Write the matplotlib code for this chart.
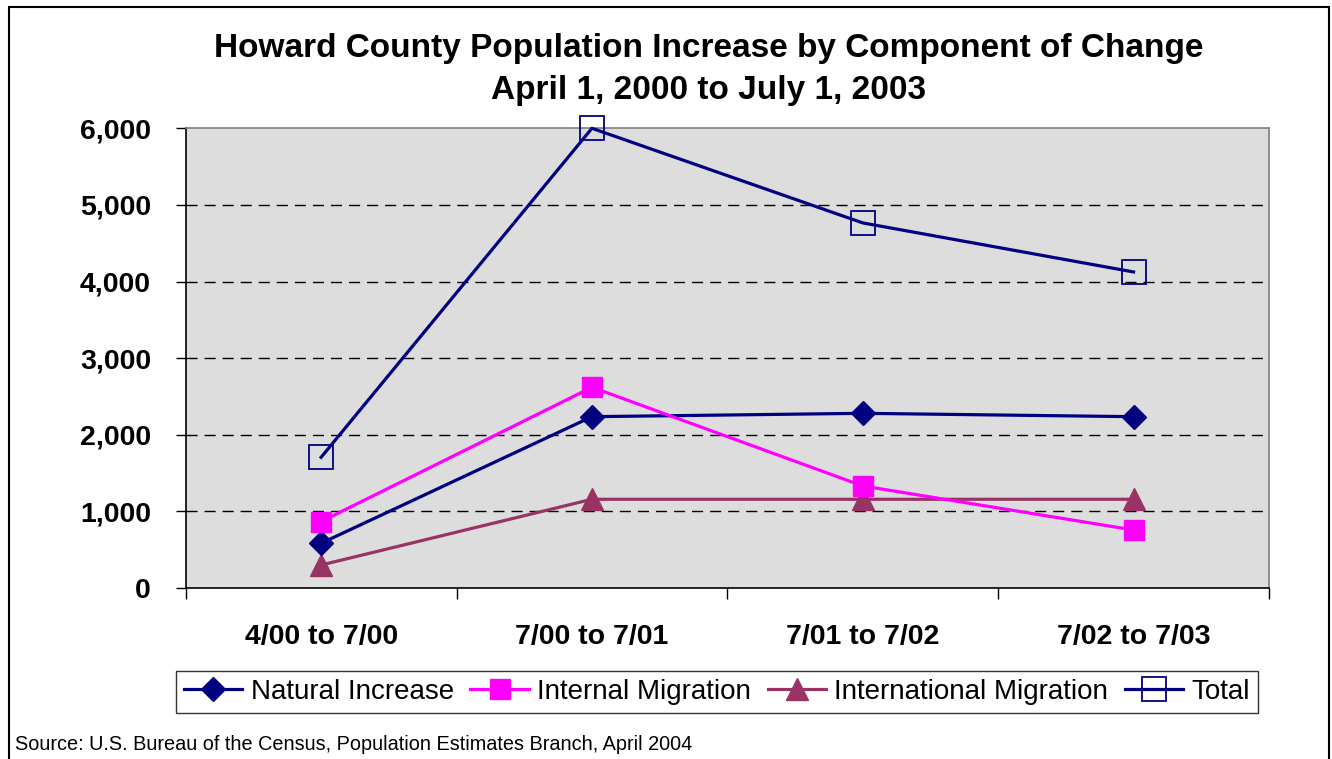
import matplotlib
matplotlib.use("Agg")
import matplotlib.pyplot as plt
from matplotlib.patches import Rectangle
from matplotlib.ticker import FuncFormatter, FixedLocator

plt.rcParams['font.family'] = ['Liberation Sans', 'DejaVu Sans']

categories = ["4/00 to 7/00", "7/00 to 7/01", "7/01 to 7/02", "7/02 to 7/03"]
natural_increase = [584, 2236, 2280, 2236]
internal_migration = [866, 2620, 1332, 757]
international_migration = [300, 1158, 1158, 1158]
total = [1706, 6000, 4765, 4125]

fig = plt.figure(figsize=(13.32, 7.59), dpi=100)
ax = fig.add_axes([185.7/1332, 1-588/759, (1269-185.7)/1332, (588-128.3)/759])
ax.set_facecolor('#DDDDDD')

x = list(range(len(categories)))
ax.plot(x, natural_increase, color='#000080', lw=2.3, marker='D', ms=12,
        mfc='#000080', mec='#000080', label='Natural Increase', zorder=4, clip_on=False)
ax.plot(x, internal_migration, color='#FF00FF', lw=2.3, marker='s', ms=15,
        mfc='#FF00FF', mec='#FF00FF', label='Internal Migration', zorder=4, clip_on=False)
ax.plot(x, international_migration, color='#993366', lw=2.3, marker='^', ms=16,
        mfc='#993366', mec='#993366', label='International Migration', zorder=3, clip_on=False)
ax.plot(x, total, color='#000080', lw=2.3, marker='s', ms=17,
        mfc='none', mec='#000080', mew=1.3, label='Total', zorder=5, clip_on=False)

ax.set_xlim(-0.5, 3.5)
ax.set_ylim(0, 6000)
ax.set_yticks(range(0, 6001, 1000))
ax.yaxis.set_major_formatter(FuncFormatter(lambda v, p: f"{int(v):,}"))
ax.xaxis.set_major_locator(FixedLocator([-0.5, 0.5, 1.5, 2.5, 3.5]))
ax.xaxis.set_minor_locator(FixedLocator(x))
ax.set_xticklabels([], minor=False)
ax.set_xticklabels(categories, minor=True)
ax.tick_params(axis='x', which='major', direction='out', length=8, width=1, color='black')
ax.tick_params(axis='x', which='minor', length=0, pad=26, labelsize=20.5)
ax.tick_params(axis='y', direction='out', length=7, width=1, pad=18, labelsize=20.5)
for lab in ax.get_xticklabels(minor=True) + ax.get_yticklabels():
    lab.set_fontweight('bold')

for v in range(1000, 6000, 1000):
    ax.axhline(v, color='black', lw=1, ls=(0, (8, 5)), zorder=1)

ax.spines['left'].set_color('black')
ax.spines['bottom'].set_color('black')
ax.spines['top'].set_color('#808080')
ax.spines['right'].set_color('#808080')
for s in ax.spines.values():
    s.set_linewidth(1.2)

fig.text(709/1332, 1-48/759, "Howard County Population Increase by Component of Change",
         ha='center', va='center', fontsize=24, fontweight='bold')
fig.text(709/1332, 1-90/759, "April 1, 2000 to July 1, 2003",
         ha='center', va='center', fontsize=24, fontweight='bold')

leg = fig.legend(loc='center', bbox_to_anchor=(717/1332, 1-692/759), ncol=4,
                 fontsize=20, frameon=True, fancybox=False, shadow=False,
                 handlelength=2.1, handletextpad=0.3, columnspacing=0.6,
                 borderpad=0.3, borderaxespad=0)
leg.get_frame().set_edgecolor('black')
leg.get_frame().set_linewidth(1)

fig.text(15/1332, 1-744/759, "Source: U.S. Bureau of the Census, Population Estimates Branch, April 2004",
         ha='left', va='center', fontsize=14.3)

fig.patches.append(Rectangle((9/1332, -0.05), (1329-9)/1332, 1.05 - 7/759,
                             transform=fig.transFigure, fill=False, edgecolor='black', lw=1.5))

fig.savefig("out.png", dpi=100)
